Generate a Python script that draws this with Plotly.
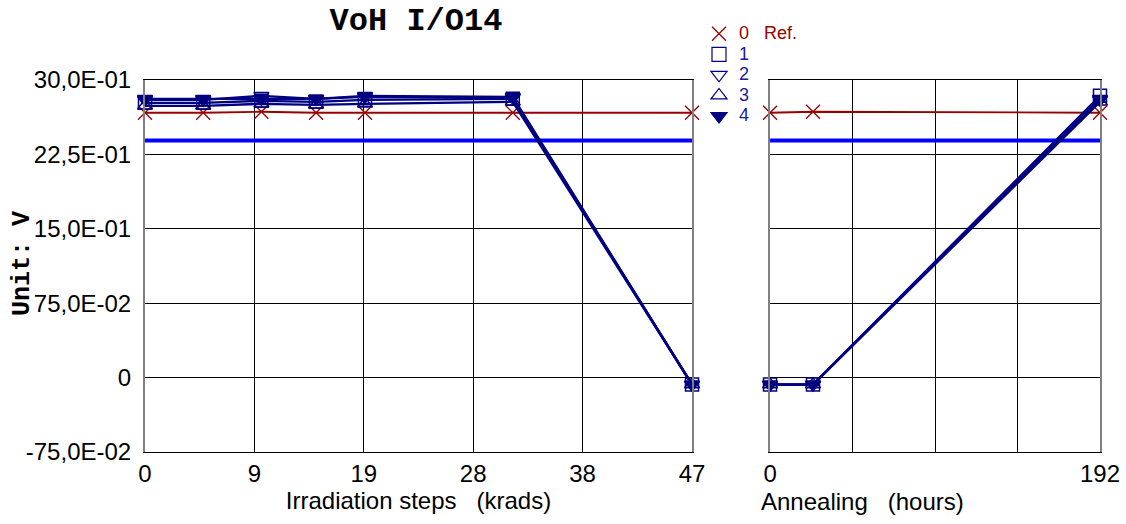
import plotly.graph_objects as go

# ---- data ----
irr_x = [0, 5, 10, 14.7, 18.9, 31.6, 47]
ann_x = [0, 25, 192]

ref_irr = [2.67, 2.67, 2.68, 2.67, 2.67, 2.67, 2.67]
ref_ann = [2.67, 2.68, 2.67]

s1_irr = [2.77, 2.77, 2.79, 2.78, 2.80, 2.81, -0.07]
s2_irr = [2.80, 2.80, 2.84, 2.81, 2.84, 2.83, -0.07]
s3_irr = [2.74, 2.74, 2.76, 2.75, 2.76, 2.78, -0.07]
s4_irr = [2.81, 2.81, 2.81, 2.81, 2.83, 2.82, -0.07]

s1_ann = [-0.07, -0.07, 2.84]
s2_ann = [-0.07, -0.07, 2.81]
s3_ann = [-0.07, -0.07, 2.78]
s4_ann = [-0.07, -0.07, 2.80]

limit = 2.39

irr_tickvals = [0, 9.4, 18.8, 28.2, 37.6, 47]
irr_ticktext = ["0", "9", "19", "28", "38", "47"]
ann_tickvals = [0, 48, 96, 144, 192]
ann_ticktext = ["0", "", "", "", "192"]
y_tickvals = [-0.75, 0, 0.75, 1.5, 2.25, 3.0]
y_ticktext = ["-75,0E-02", "0", "75,0E-02", "15,0E-01", "22,5E-01", "30,0E-01"]

RED = "#990000"
NAVY = "#000080"
BLUE = "#0000FF"
MONO = "Liberation Mono, Courier New, monospace"
SANS = "Liberation Sans, Arial, sans-serif"

series = [
    ("1", s1_irr, s1_ann, "square-open"),
    ("2", s2_irr, s2_ann, "triangle-down-open"),
    ("3", s3_irr, s3_ann, "triangle-up-open"),
    ("4", s4_irr, s4_ann, "triangle-down"),
]

fig = go.Figure()

# limit lines
fig.add_trace(go.Scatter(x=[irr_x[0], irr_x[-1]], y=[limit, limit], mode="lines",
                         line=dict(color=BLUE, width=4), showlegend=False,
                         xaxis="x", yaxis="y"))
fig.add_trace(go.Scatter(x=[ann_x[0], ann_x[-1]], y=[limit, limit], mode="lines",
                         line=dict(color=BLUE, width=4), showlegend=False,
                         xaxis="x2", yaxis="y2"))

# reference
for xs, ys, xa, ya in [(irr_x, ref_irr, "x", "y"), (ann_x, ref_ann, "x2", "y2")]:
    fig.add_trace(go.Scatter(x=xs, y=ys, mode="lines+markers",
                             line=dict(color=RED, width=1.8),
                             marker=dict(symbol="x-thin-open", size=14, color=RED,
                                         line=dict(color=RED, width=1.3)),
                             showlegend=False, cliponaxis=False, xaxis=xa, yaxis=ya))

for name, yi, ya_, sym in series:
    mk = dict(symbol=sym, size=13, color=NAVY, line=dict(color=NAVY, width=1.5))
    fig.add_trace(go.Scatter(x=irr_x, y=yi, mode="lines+markers",
                             line=dict(color=NAVY, width=2.3), marker=mk,
                             showlegend=False, cliponaxis=False, xaxis="x", yaxis="y"))
    fig.add_trace(go.Scatter(x=ann_x, y=ya_, mode="lines+markers",
                             line=dict(color=NAVY, width=2.3), marker=mk,
                             showlegend=False, cliponaxis=False, xaxis="x2", yaxis="y2"))

# legend entries (markers only)
fig.add_trace(go.Scatter(x=[None], y=[None], mode="markers",
                         name='<span style="color:#990000;font-size:18px">0&nbsp;&nbsp;&nbsp;Ref.</span>',
                         marker=dict(symbol="x-thin-open", size=14, color=RED,
                                     line=dict(color=RED, width=1.3))))
for name, yi, ya_, sym in series:
    fig.add_trace(go.Scatter(x=[None], y=[None], mode="markers",
                             name=f'<span style="color:#1a1a99;font-size:18px">{name}</span>',
                             marker=dict(symbol=sym, size=14, color=NAVY,
                                         line=dict(color=NAVY, width=1.2))))

axis_common = dict(showgrid=True, gridcolor="black", gridwidth=1, zeroline=False,
                   ticks="inside", ticklen=5, tickcolor="black", automargin=False,
                   tickfont=dict(family=SANS, size=24, color="black"))

fig.update_layout(
    width=1126, height=524,
    paper_bgcolor="white", plot_bgcolor="white",
    margin=dict(l=145, r=26, t=80, b=72, autoexpand=False),
    showlegend=True,
    legend=dict(xref="container", yref="container", x=699 / 1126, y=1 - 18.5 / 524,
                xanchor="left", yanchor="top",
                font=dict(family=SANS, size=13.5), bgcolor="rgba(0,0,0,0)",
                tracegroupgap=0, itemwidth=30),
    title=dict(text="<b>VoH I/O14</b>", font=dict(family=MONO, size=32, color="black"),
               xref="container", x=416 / 1126, xanchor="center", y=1 - 19 / 524,
               yanchor="middle"),
    xaxis=dict(domain=[0, 0.5728], range=[0, 47], tickvals=irr_tickvals, ticktext=irr_ticktext,
               showline=True, linecolor="black", linewidth=1, mirror=True,
               title=dict(text="Irradiation steps&nbsp;&nbsp; (krads)",
                          font=dict(family=SANS, size=24, color="black"), standoff=6),
               **axis_common),
    xaxis2=dict(domain=[0.6545, 1.0], range=[0, 192], tickvals=ann_tickvals, ticktext=ann_ticktext,
                showline=True, linecolor="black", linewidth=1, mirror=True, anchor="y2",
                **axis_common),
    yaxis=dict(range=[-0.75, 3.0], tickvals=y_tickvals, ticktext=y_ticktext,
               showline=True, linecolor="#808080", linewidth=2, mirror=True,
               ticklabelstandoff=7,
               **axis_common),
    yaxis2=dict(range=[-0.75, 3.0], tickvals=y_tickvals, ticktext=y_ticktext,
                showticklabels=False, anchor="x2",
                showline=True, linecolor="#808080", linewidth=2, mirror=True,
                **axis_common),
    annotations=[
        dict(text="<b>Unit: V</b>", textangle=-90, xref="paper", yref="paper",
             x=(22 - 145) / 955, y=(452 - 263) / 372, xanchor="center", yanchor="middle",
             showarrow=False, font=dict(family=MONO, size=25, color="black")),
        dict(text="Annealing&nbsp;&nbsp; (hours)", xref="paper", yref="paper",
             x=(759 - 145) / 955, y=(452 - 501) / 372, xanchor="left", yanchor="middle",
             showarrow=False, font=dict(family=SANS, size=24, color="black")),
    ],
)

fig.write_html("out.html", config={"displayModeBar": False},
               post_script="document.body.style.margin='0';document.body.style.overflow='hidden';")
